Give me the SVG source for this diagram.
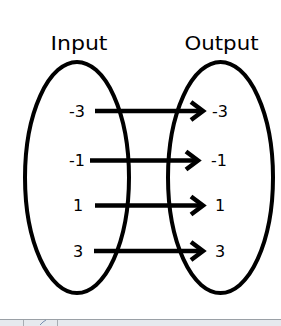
<svg xmlns="http://www.w3.org/2000/svg" width="281" height="326" viewBox="0 0 281 326">
<style>
.set{fill:none;stroke:#000;stroke-width:4}
.title{font-family:"DejaVu Sans",sans-serif;font-size:20px;fill:#000;text-anchor:middle}
.num{font-family:"DejaVu Sans",sans-serif;font-size:16px;fill:#000;text-anchor:middle}
.arr{fill:none;stroke:#000;stroke-width:4.5}
.head{fill:none;stroke:#000;stroke-width:4.5;stroke-linejoin:miter}
</style>
<rect width="281" height="326" fill="#fff"/>
<g id="input-set">
<ellipse class="set" cx="77" cy="177.5" rx="52" ry="115.5"/>
<text class="title" x="79" y="50" textLength="57" lengthAdjust="spacingAndGlyphs">Input</text>
</g>
<g id="output-set">
<ellipse class="set" cx="220.5" cy="177.5" rx="52.5" ry="115.5"/>
<text class="title" x="221.5" y="50" textLength="74" lengthAdjust="spacingAndGlyphs">Output</text>
</g>
<g id="in-m3"><text class="num" x="77" y="116.5">-3</text></g>
<g id="in-m1"><text class="num" x="77" y="165.5">-1</text></g>
<g id="in-1"><text class="num" x="78" y="211">1</text></g>
<g id="in-3"><text class="num" x="78" y="257">3</text></g>
<g id="out-m3"><text class="num" x="220" y="116.5">-3</text></g>
<g id="out-m1"><text class="num" x="219" y="165.5">-1</text></g>
<g id="out-1"><text class="num" x="220" y="211">1</text></g>
<g id="out-3"><text class="num" x="220" y="257">3</text></g>
<g id="connectors">
<line class="arr" x1="95" y1="111" x2="202" y2="111"/>
<polyline class="head" points="191,102 203,111 191,120"/>
<line class="arr" x1="90" y1="160.5" x2="197" y2="160.5"/>
<polyline class="head" points="186,151.5 198,160.5 186,169.5"/>
<line class="arr" x1="95" y1="205.5" x2="202" y2="205.5"/>
<polyline class="head" points="191,196.5 203,205.5 191,214.5"/>
<line class="arr" x1="94" y1="251" x2="202" y2="251"/>
<polyline class="head" points="191,242 203,251 191,260"/>
</g>
<rect x="0" y="319" width="281" height="7" fill="#e6e9ee"/>
<line x1="0" y1="319.5" x2="281" y2="319.5" stroke="#9aa0a6" stroke-width="1"/>
<line x1="23.5" y1="320" x2="23.5" y2="326" stroke="#a8adb3" stroke-width="1"/>
<line x1="57.5" y1="320" x2="57.5" y2="326" stroke="#a8adb3" stroke-width="1"/>
<path d="M40,325 L43,322 L46,320" fill="none" stroke="#7a8fb0" stroke-width="1"/>
</svg>
